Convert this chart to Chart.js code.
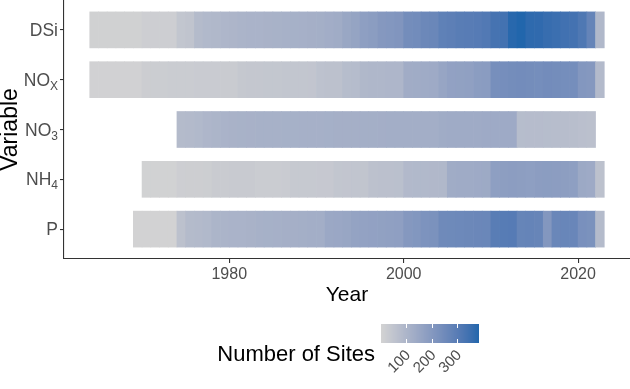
<!DOCTYPE html>
<html>
<head>
<meta charset="utf-8">
<script src="https://cdn.jsdelivr.net/npm/chart.js@4"></script>
<style>
  html, body { margin: 0; padding: 0; background: #fff; }
</style>
</head>
<body>
<canvas id="chart" width="630" height="389"></canvas>
<script>
// rows from top to bottom
const variables = ['DSi', 'NOX', 'NO3', 'NH4', 'P'];
const labelMain = ['DSi', 'NO', 'NO', 'NH', 'P'];
const labelSub = ['', 'X', '3', '4', ''];
const startYears = [1964, 1964, 1974, 1970, 1969];

// number of sites per year, starting at startYears[i]
const dsiSites = [8, 8, 8, 8, 8, 8, 16, 16, 16, 16, 45, 50, 82, 88, 92, 96, 100,
  104, 106, 108, 110, 112, 114, 116, 118, 120, 122, 128, 132, 150, 160, 178, 185,
  200, 205, 210, 240, 245, 258, 262, 285, 290, 298, 300, 305, 312, 335, 340, 378, 385,
  370, 368, 358, 352, 342, 338, 318, 272, 92];
const noxSites = [6, 6, 6, 6, 6, 6, 20, 22, 22, 24, 25, 25, 26, 26, 27, 28, 28,
  38, 40, 40, 42, 42, 44, 44, 45, 46, 58, 60, 62, 75, 78, 92, 94, 95, 96, 98,
  130, 132, 135, 138, 155, 168, 170, 172, 185, 188, 232, 235,
  240, 242, 240, 238, 242, 240, 238, 236, 205, 200, 85];
const no3Sites = [82, 85, 88, 98, 102, 106, 110, 112, 113, 114, 115, 115, 116, 116, 117, 118,
  118, 119, 120, 120, 121, 122, 122, 123, 124, 124,
  125, 125, 126, 126, 133, 134, 135, 136, 136, 137, 137, 138, 138,
  75, 76, 76, 75, 74, 74, 72, 66, 64];
const nh4Sites = [5, 5, 5, 5, 16, 17, 17, 18, 28, 28, 29, 29, 30, 24, 25, 25, 26,
  34, 35, 35, 36, 36, 45, 46, 47, 48, 62, 63, 64, 65, 86, 88, 88, 90, 92,
  132, 134, 136, 138, 140, 178, 180, 182, 180, 178, 182, 184, 182, 180, 178, 142, 138, 62];
const pSites = [3, 3, 3, 3, 3, 62, 82, 85, 88, 102, 104, 106, 108, 110,
  115, 116, 118, 120, 120, 122, 124, 126, 145, 148, 152, 162, 165, 168, 170, 172, 175,
  200, 206, 218, 222, 250, 252, 255, 258, 260, 262, 298, 302, 305, 270, 272, 268, 205,
  262, 266, 264, 228, 222, 82];
const siteSeries = [dsiSites, noxSites, no3Sites, nh4Sites, pSites];

const yearTicks = [1980, 2000, 2020];
const legendTicks = [100, 200, 300];
const siteRange = [1, 385];

const FONT = '"Liberation Sans", Arial, sans-serif';
const LOW = [211, 211, 211];
const HIGH = [33, 102, 172];

// colour gradient in Lab like ggplot
function lin(c) { c /= 255; return c <= 0.04045 ? c / 12.92 : Math.pow((c + 0.055) / 1.055, 2.4); }
function unlin(c) { c = c <= 0.0031308 ? 12.92 * c : 1.055 * Math.pow(c, 1 / 2.4) - 0.055; return Math.round(Math.max(0, Math.min(1, c)) * 255); }
function toLab(rgb) {
  const [r, g, b] = rgb.map(lin);
  const X = (0.4124 * r + 0.3576 * g + 0.1805 * b) / 0.95047;
  const Y = 0.2126 * r + 0.7152 * g + 0.0722 * b;
  const Z = (0.0193 * r + 0.1192 * g + 0.9505 * b) / 1.08883;
  const f = t => t > 0.008856 ? Math.cbrt(t) : 7.787 * t + 16 / 116;
  return [116 * f(Y) - 16, 500 * (f(X) - f(Y)), 200 * (f(Y) - f(Z))];
}
function fromLab(lab) {
  const fy = (lab[0] + 16) / 116, fx = fy + lab[1] / 500, fz = fy - lab[2] / 200;
  const g = t => t > 0.206893 ? t * t * t : (t - 16 / 116) / 7.787;
  const X = g(fx) * 0.95047, Y = g(fy), Z = g(fz) * 1.08883;
  const r = 3.2406 * X - 1.5372 * Y - 0.4986 * Z;
  const gg = -0.9689 * X + 1.8758 * Y + 0.0415 * Z;
  const b = 0.0557 * X - 0.2040 * Y + 1.0570 * Z;
  return [unlin(r), unlin(gg), unlin(b)];
}
const lowLab = toLab(LOW), highLab = toLab(HIGH);
function fillFor(n) {
  const t = Math.max(0, Math.min(1, (n - siteRange[0]) / (siteRange[1] - siteRange[0])));
  const c = fromLab(lowLab.map((v, k) => v + (highLab[k] - v) * t));
  return 'rgb(' + c.join(',') + ')';
}

const datasets = variables.map((v, i) => ({
  label: v,
  data: siteSeries[i].map((n, k) => ({ x: [startYears[i] + k, startYears[i] + k + 1], y: variables.length - 1 - i })),
  backgroundColor: siteSeries[i].map(fillFor),
  borderWidth: 0,
  barThickness: 36,
  grouped: false
}));

const axisGrid = { display: true, drawOnChartArea: false, drawTicks: true, tickLength: 4, color: '#333333', lineWidth: 1.1 };
const axisBorder = { display: true, color: '#333333', width: 1.1 };

const decorPlugin = {
  id: 'decor',
  afterDraw(chart) {
    const ctx = chart.ctx;
    const ys = chart.scales.y;
    const area = chart.chartArea;
    ctx.save();
    // variable labels with subscripts
    ctx.fillStyle = '#4d4d4d';
    ctx.textBaseline = 'alphabetic';
    variables.forEach((v, i) => {
      const py = ys.getPixelForValue(variables.length - 1 - i);
      const right = area.left - 6;
      let subW = 0;
      if (labelSub[i]) {
        ctx.font = '12px ' + FONT;
        ctx.textAlign = 'right';
        subW = ctx.measureText(labelSub[i]).width;
        ctx.fillText(labelSub[i], right, py + 10);
      }
      ctx.font = '17.5px ' + FONT;
      ctx.textAlign = 'right';
      ctx.fillText(labelMain[i], right - subW, py + 6);
    });
    // axis titles
    ctx.fillStyle = '#000000';
    ctx.font = '21px ' + FONT;
    ctx.textAlign = 'center';
    ctx.textBaseline = 'middle';
    ctx.fillText('Year', (area.left + area.right) / 2, 295);
    ctx.save();
    ctx.translate(17, (area.top + area.bottom) / 2);
    ctx.rotate(-Math.PI / 2);
    ctx.font = '23px ' + FONT;
    ctx.textBaseline = 'alphabetic';
    ctx.fillText('Variable', 0, 0);
    ctx.restore();
    // colour bar legend
    const barL = 381, barR = 479, barT = 324, barB = 343;
    const vx = n => barL + (n - siteRange[0]) / (siteRange[1] - siteRange[0]) * (barR - barL);
    for (let x = barL; x < barR; x++) {
      const n = siteRange[0] + (x + 0.5 - barL) / (barR - barL) * (siteRange[1] - siteRange[0]);
      ctx.fillStyle = fillFor(n);
      ctx.fillRect(x, barT, 1, barB - barT);
    }
    ctx.strokeStyle = '#ffffff';
    ctx.lineWidth = 1;
    legendTicks.forEach(n => {
      const x = Math.round(vx(n)) + 0.5;
      ctx.beginPath();
      ctx.moveTo(x, barT); ctx.lineTo(x, barT + 4);
      ctx.moveTo(x, barB - 4); ctx.lineTo(x, barB);
      ctx.stroke();
    });
    ctx.fillStyle = '#000000';
    ctx.font = '22px ' + FONT;
    ctx.textAlign = 'right';
    ctx.textBaseline = 'middle';
    ctx.fillText('Number of Sites', 375, 355);
    ctx.fillStyle = '#4d4d4d';
    ctx.font = '15px ' + FONT;
    legendTicks.forEach(n => {
      ctx.save();
      ctx.translate(vx(n) + 2, 353);
      ctx.rotate(-Math.PI / 4);
      ctx.textAlign = 'right';
      ctx.textBaseline = 'middle';
      ctx.fillText(String(n), 0, 0);
      ctx.restore();
    });
    ctx.restore();
  }
};

new Chart(document.getElementById('chart'), {
  type: 'bar',
  data: { datasets },
  options: {
    indexAxis: 'y',
    responsive: false,
    devicePixelRatio: 1,
    animation: false,
    layout: { padding: 0 },
    plugins: { legend: { display: false }, tooltip: { enabled: false }, title: { display: false } },
    scales: {
      x: {
        type: 'linear',
        min: 1961.05,
        max: 2025.95,
        beginAtZero: false,
        afterBuildTicks: s => { s.ticks = yearTicks.map(v => ({ value: v })); },
        afterFit: s => { s.height = 130; },
        ticks: { callback: v => String(v), color: '#4d4d4d', font: { family: FONT, size: 16 }, padding: 2, maxRotation: 0, autoSkip: false },
        grid: axisGrid,
        border: axisBorder
      },
      y: {
        type: 'linear',
        min: -0.6,
        max: 4.6,
        offset: false,
        afterBuildTicks: s => { s.ticks = [0, 1, 2, 3, 4].map(v => ({ value: v })); },
        afterFit: s => { s.width = 64; },
        ticks: { display: false },
        grid: Object.assign({}, axisGrid, { offset: false }),
        border: axisBorder
      }
    }
  },
  plugins: [decorPlugin]
});
</script>
</body>
</html>
